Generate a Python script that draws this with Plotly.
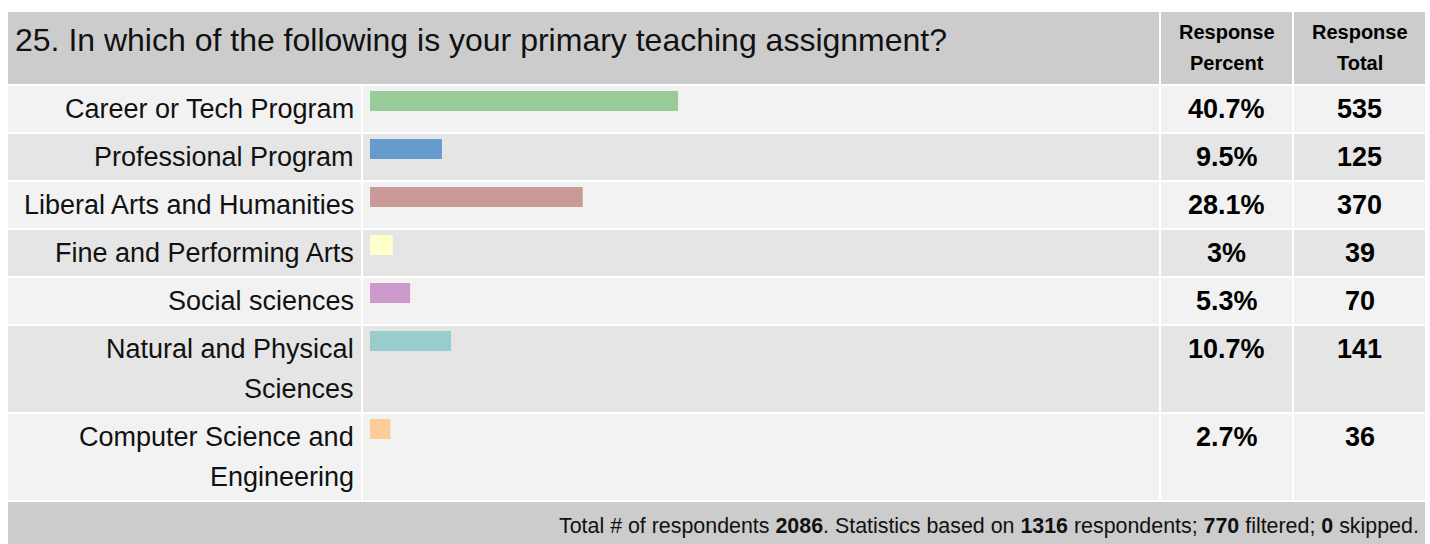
import plotly.graph_objects as go

W, H = 1430, 544

title = "25. In which of the following is your primary teaching assignment?"
categories = [
    ["Career or Tech Program"],
    ["Professional Program"],
    ["Liberal Arts and Humanities"],
    ["Fine and Performing Arts"],
    ["Social sciences"],
    ["Natural and Physical", "Sciences"],
    ["Computer Science and", "Engineering"],
]
percent = [40.7, 9.5, 28.1, 3.0, 5.3, 10.7, 2.7]
percent_labels = ["40.7%", "9.5%", "28.1%", "3%", "5.3%", "10.7%", "2.7%"]
totals = [535, 125, 370, 39, 70, 141, 36]
colors = ["#99cc99", "#6699cc", "#cc9999", "#ffffcc", "#cc99cc", "#99cccc", "#ffcc99"]
footer = ("Total # of respondents <b>2086</b>. Statistics based on <b>1316</b> "
          "respondents; <b>770</b> filtered; <b>0</b> skipped.")

FONT = "Liberation Sans, Arial, sans-serif"

# table geometry in pixels
left, right = 8, 1425
col_bar, col_pct, col_tot = 363, 1161, 1294
gap = 2
head_top, head_bot = 12, 84
row_h = [46 if len(c) == 1 else 86 for c in categories]
row_top = []
y = head_bot + gap
for h in row_h:
    row_top.append(y)
    y += h + gap
foot_top = y

bar_x0 = 370
bar_full = 757  # pixels for 100%


def px(x):
    return x / W


shapes = []


def cell(x0, x1, y0, y1, color):
    shapes.append(dict(type="rect", xref="paper", yref="y", x0=px(x0), x1=px(x1),
                       y0=y0, y1=y1, fillcolor=color, line_width=0, layer="below"))


# header
cell(left, col_pct - gap, head_top, head_bot, "#cccccc")
cell(col_pct, col_tot - gap, head_top, head_bot, "#cccccc")
cell(col_tot, right, head_top, head_bot, "#cccccc")
# rows
for i, (t, h) in enumerate(zip(row_top, row_h)):
    c = "#f2f2f2" if i % 2 == 0 else "#e5e5e5"
    cell(left, col_bar - gap, t, t + h, c)
    cell(col_bar, col_pct - gap, t, t + h, c)
    cell(col_pct, col_tot - gap, t, t + h, c)
    cell(col_tot, right, t, t + h, c)
# footer
cell(left, right, foot_top, H + 5, "#cccccc")

fig = go.Figure()
fig.add_trace(go.Bar(
    orientation="h",
    x=percent,
    y=[t + 5 + 10 for t in row_top],
    width=20,
    marker=dict(color=colors, line=dict(width=0)),
    hoverinfo="skip",
))

ann = []
ann.append(dict(text=title, x=px(13), xanchor="left", y=40, yanchor="middle",
                font=dict(size=32, color="#111")))
for xc, words in [((col_pct + col_tot - gap) / 2, ["Response", "Percent"]),
                  ((col_tot + right) / 2, ["Response", "Total"])]:
    for k, wd in enumerate(words):
        ann.append(dict(text=f"<b>{wd}</b>", x=px(xc), xanchor="center", y=32 + 31 * k,
                        yanchor="middle", font=dict(size=20, color="#000")))
for i, t in enumerate(row_top):
    for k, line in enumerate(categories[i]):
        ann.append(dict(text=line, x=px(356), xanchor="right", y=t + 23 + 40 * k,
                        yanchor="middle", font=dict(size=27, color="#111")))
    ann.append(dict(text=f"<b>{percent_labels[i]}</b>", x=px((col_pct + col_tot - gap) / 2),
                    xanchor="center", y=t + 23, yanchor="middle",
                    font=dict(size=27, color="#000")))
    ann.append(dict(text=f"<b>{totals[i]}</b>", x=px((col_tot + right) / 2),
                    xanchor="center", y=t + 23, yanchor="middle",
                    font=dict(size=27, color="#000")))
ann.append(dict(text=footer, x=px(1421), xanchor="right", y=526, yanchor="middle",
                font=dict(size=21.4, color="#111")))
for a in ann:
    a.update(xref="paper", yref="y", showarrow=False)

fig.update_layout(
    width=W, height=H,
    margin=dict(l=0, r=0, t=0, b=0),
    paper_bgcolor="white", plot_bgcolor="rgba(0,0,0,0)",
    font=dict(family=FONT),
    showlegend=False,
    shapes=shapes,
    annotations=ann,
    xaxis=dict(domain=[px(bar_x0), px(bar_x0 + bar_full)], range=[0, 100],
               visible=False, fixedrange=True),
    yaxis=dict(domain=[0, 1], range=[H, 0], visible=False, fixedrange=True),
)

fig.write_html("out.html", config={"displayModeBar": False},
               post_script="document.body.style.margin='0';")
